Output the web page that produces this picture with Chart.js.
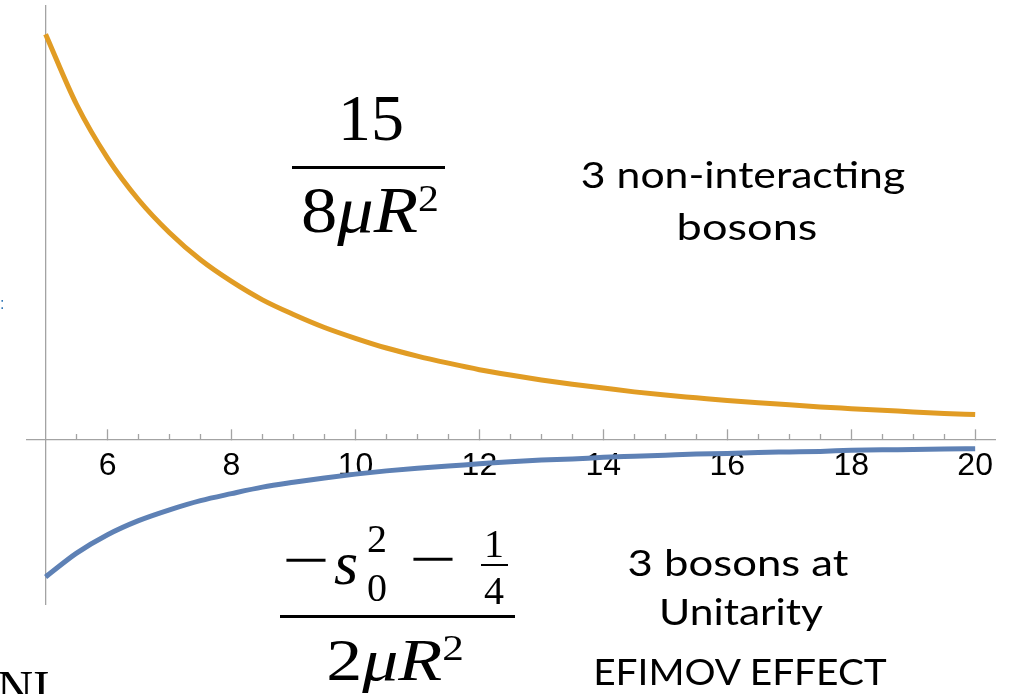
<!DOCTYPE html>
<html>
<head>
<meta charset="utf-8">
<script src="https://cdn.jsdelivr.net/npm/chart.js@4.4.0/dist/chart.umd.min.js"></script>
<style>
  html, body { margin: 0; padding: 0; background: #fff; }
  #wrap { position: relative; width: 1012px; height: 694px; overflow: hidden; }
  #grafica { position: absolute; left: 0; top: 0; }
  .t { position: absolute; white-space: nowrap; line-height: 1; color: #000; }
  .m { font-family: "Liberation Serif", serif; }
  .s { font-family: Lato, sans-serif; font-size: 37px; }
  .c { transform: translateX(-50%); }
  .bar { position: absolute; background: #000; }
</style>
</head>
<body>
<div id="wrap">
  <canvas id="grafica" width="1012" height="694"></canvas>

  <!-- 15 / 8 mu R^2 -->
  <div class="t m c" style="left:371px; top:85px; font-size:66px;">15</div>
  <div class="bar" style="left:292px; top:166px; width:153px; height:3px;"></div>
  <div class="t m" style="left:370px; top:177px; font-size:66px; transform:translateX(-50%) scaleX(1.1);">8<i>μR</i><span style="font-size:38px; position:relative; top:-21px;">2</span></div>

  <!-- (-s0^2 - 1/4) / 2 mu R^2 -->
  <div class="t m" style="left:306px; top:530px; font-size:60px; transform:translateX(-50%) scaleX(1.4);">−</div>
  <div class="t m" style="left:334px; top:532px; font-size:62px;"><i>s</i></div>
  <div class="t m" style="left:367px; top:519px; font-size:40px;">2</div>
  <div class="t m" style="left:367px; top:568px; font-size:40px;">0</div>
  <div class="t m" style="left:433px; top:529px; font-size:60px; transform:translateX(-50%) scaleX(1.4);">−</div>
  <div class="t m c" style="left:494px; top:524px; font-size:40px;">1</div>
  <div class="bar" style="left:481px; top:564px; width:27px; height:2px;"></div>
  <div class="t m c" style="left:494px; top:571px; font-size:40px;">4</div>
  <div class="bar" style="left:280px; top:615px; width:235px; height:3px;"></div>
  <div class="t m" style="left:395px; top:630px; font-size:60px; transform:translateX(-50%) scaleX(1.2);">2<i>μR</i><span style="font-size:36px; position:relative; top:-20px;">2</span></div>

  <!-- textos -->
  <div class="t s" style="left:743px; top:155px; transform:translateX(-50%) scaleX(1.155);">3 non-interacting</div>
  <div class="t s" style="left:747px; top:207px; transform:translateX(-50%) scaleX(1.22);">bosons</div>
  <div class="t s" style="left:738px; top:543px; transform:translateX(-50%) scaleX(1.18);">3 bosons at</div>
  <div class="t s" style="left:741px; top:592px; transform:translateX(-50%) scaleX(1.15);">Unitarity</div>
  <div class="t s" style="left:740px; top:652px; transform:translateX(-50%) scaleX(1.05);">EFIMOV EFFECT</div>

  <div class="t m" style="left:-3px; top:663px; font-size:50px;">NI</div>
  <div class="t" style="left:0px; top:296px; font-family:'Liberation Sans'; font-size:16px; color:#2e75b6;">:</div>
</div>

<script>
// R (eje x)
const valoresR = [5, 5.5, 6, 6.5, 7, 7.5, 8, 8.5, 9, 9.5, 10, 10.5, 11, 11.5, 12, 12.5,
                  13, 13.5, 14, 14.5, 15, 15.5, 16, 16.5, 17, 17.5, 18, 18.5, 19, 19.5, 20];

// 3 bosones no interactuantes (naranja)
const noInteractuantes = [75.0, 62.0, 52.1, 44.4, 38.3, 33.3, 29.3, 25.9, 23.2, 20.8, 18.8, 17.0,
                          15.5, 14.2, 13.0, 12.0, 11.1, 10.3, 9.6, 8.9, 8.3, 7.8, 7.3, 6.9,
                          6.5, 6.1, 5.8, 5.5, 5.2, 4.9, 4.7];

// 3 bosones en unitariedad (azul)
const unitariedad = [-25.3, -20.9, -17.5, -14.9, -12.9, -11.2, -9.9, -8.7, -7.8, -7.0, -6.3, -5.7,
                     -5.2, -4.8, -4.4, -4.0, -3.7, -3.5, -3.2, -3.0, -2.8, -2.6, -2.5, -2.3,
                     -2.2, -2.1, -1.9, -1.8, -1.75, -1.65, -1.6];

const ticksMayores = [6, 8, 10, 12, 14, 16, 18, 20];
const ticksMenores = [5.5, 6.5, 7, 7.5, 8.5, 9, 9.5, 10.5, 11, 11.5, 12.5, 13, 13.5,
                      14.5, 15, 15.5, 16.5, 17, 17.5, 18.5, 19, 19.5];

var gris = '#a3a3a3';

var ctx = document.getElementById('grafica').getContext('2d');
var myChart = new Chart(ctx, {
  type: 'line',
  data: {
    datasets: [{
      data: valoresR.map((r, i) => ({ x: r, y: unitariedad[i] })),
      borderColor: '#5e81b5',
      borderWidth: 5,
      pointRadius: 0,
      cubicInterpolationMode: 'monotone'
    }, {
      data: valoresR.map((r, i) => ({ x: r, y: noInteractuantes[i] })),
      borderColor: '#e19c24',
      borderWidth: 5,
      pointRadius: 0,
      cubicInterpolationMode: 'monotone'
    }]
  },
  options: {
    responsive: false,
    animation: false,
    layout: { padding: { left: 27, right: 17, top: 6, bottom: 90 } },
    plugins: { legend: { display: false }, tooltip: { enabled: false } },
    scales: {
      x: {
        type: 'linear',
        min: 4.7,
        max: 20.32,
        position: { y: 0 },
        afterBuildTicks: s => { s.ticks = ticksMayores.map(v => ({ value: v })); },
        grid: { drawOnChartArea: false, drawTicks: true, tickLength: -11, tickColor: gris, tickWidth: 1.3 },
        border: { color: gris, width: 1.3 },
        ticks: { padding: 18, color: '#000', maxRotation: 0, autoSkip: false,
                 font: { family: 'Liberation Sans', size: 32 } }
      },
      x2: {
        type: 'linear',
        axis: 'x',
        min: 4.7,
        max: 20.32,
        position: { y: 0 },
        afterBuildTicks: s => { s.ticks = ticksMenores.map(v => ({ value: v })); },
        grid: { drawOnChartArea: false, drawTicks: true, tickLength: -6, tickColor: gris, tickWidth: 1.3 },
        border: { display: false },
        ticks: { display: false }
      },
      y: {
        type: 'linear',
        min: -30.3,
        max: 80.2,
        position: { x: 5 },
        grid: { drawOnChartArea: false, drawTicks: false },
        border: { color: gris, width: 1.3 },
        ticks: { display: false }
      }
    }
  }
});
</script>
</body>
</html>
